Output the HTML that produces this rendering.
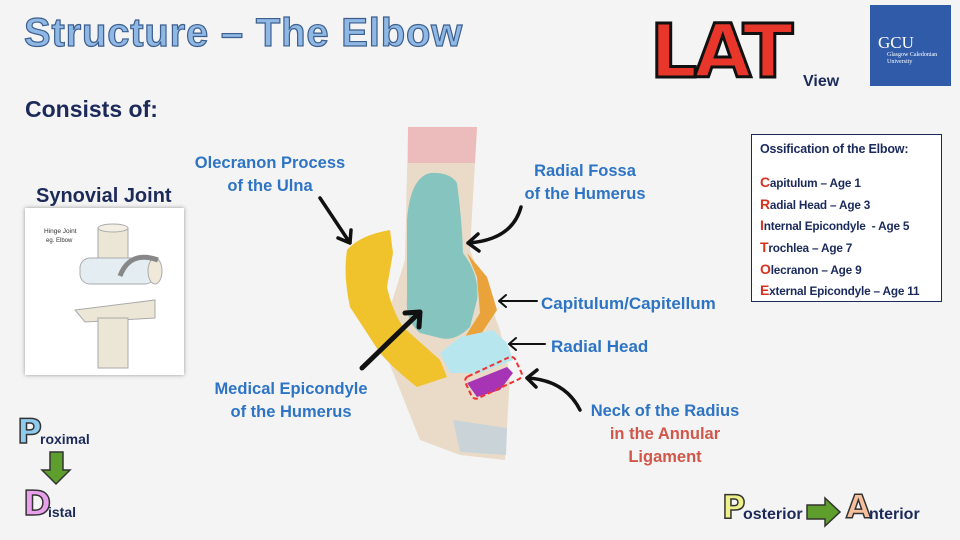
<!DOCTYPE html>
<html><head><meta charset="utf-8"><style>
body{margin:0;width:960px;height:540px;background:#f4f4f4;overflow:hidden;position:relative;font-family:"Liberation Sans",sans-serif}
.a{position:absolute;white-space:nowrap;font-weight:bold}
.lb{color:#2e74c4;font-size:16.5px;text-align:center;line-height:23px}
.os{font-size:11.8px;color:#1b2a5c;line-height:16px;letter-spacing:-0.2px;left:760px}
.os b{color:#d8321e;font-size:14px;line-height:16px}
</style></head><body>
<div class="a" style="left:24px;top:11px;font-size:40px;color:#8fb8e4;-webkit-text-stroke:1.2px #3d5f8e;letter-spacing:0.8px">Structure – The Elbow</div>
<div class="a" style="left:25px;top:96px;font-size:23px;color:#1c2a5a">Consists of:</div>
<div class="a" style="left:36px;top:185px;font-size:20px;color:#1c2a5a">Synovial Joint</div>
<div style="position:absolute;left:25px;top:208px;width:159px;height:167px;background:#fff;box-shadow:0 0 4px #999"></div>

<div class="a" style="left:650px;top:9px;font-size:74px;color:#e8362a;-webkit-text-stroke:3px #111;font-family:'DejaVu Sans',sans-serif;letter-spacing:-3px">LAT</div>
<div class="a" style="left:803px;top:73px;font-size:16px;color:#1c2a5a">View</div>
<div style="position:absolute;left:870px;top:5px;width:81px;height:81px;background:#2f5ba8"></div>
<div class="a" style="left:878px;top:33px;font-size:17px;color:#fff;font-family:'Liberation Serif',serif;font-weight:normal">GCU</div>
<div class="a" style="left:887px;top:52px;font-size:6px;color:#fff;font-family:'Liberation Serif',serif;font-weight:normal;line-height:7px">Glasgow Caledonian<br>University</div>

<div class="a lb" style="left:190px;top:152px;width:160px">Olecranon Process<br>of the Ulna</div>
<div class="a lb" style="left:510px;top:160px;width:150px">Radial Fossa<br>of the Humerus</div>
<div class="a lb" style="left:541px;top:292px;font-size:17px">Capitulum/Capitellum</div>
<div class="a lb" style="left:551px;top:335px;font-size:17px">Radial Head</div>
<div class="a lb" style="left:206px;top:378px;width:170px">Medical Epicondyle<br>of the Humerus</div>
<div class="a lb" style="left:580px;top:400px;width:170px">Neck of the Radius<br><span style="color:#d0574a">in the Annular<br>Ligament</span></div>

<div style="position:absolute;left:751px;top:134px;width:189px;height:166px;border:1.5px solid #1c2a5a;background:#fff"></div>
<div class="a os" style="top:141px;font-size:12.5px">Ossification of the Elbow:</div>
<div class="a os" style="top:174px"><b>C</b>apitulum – Age 1</div>
<div class="a os" style="top:196px"><b>R</b>adial Head – Age 3</div>
<div class="a os" style="top:217px"><b>I</b>nternal Epicondyle&nbsp; - Age 5</div>
<div class="a os" style="top:239px"><b>T</b>rochlea – Age 7</div>
<div class="a os" style="top:261px"><b>O</b>lecranon – Age 9</div>
<div class="a os" style="top:282px"><b>E</b>xternal Epicondyle – Age 11</div>

<div class="a" style="left:17px;top:412px;font-size:34px;color:#8fcbec;-webkit-text-stroke:1.5px #333;font-family:'DejaVu Sans',sans-serif">P</div>
<div class="a" style="left:40px;top:431px;font-size:14px;color:#1c2a5a">roximal</div>
<div class="a" style="left:23px;top:484px;font-size:34px;color:#e8a0ec;-webkit-text-stroke:1.5px #333;font-family:'DejaVu Sans',sans-serif">D</div>
<div class="a" style="left:48px;top:504px;font-size:14px;color:#1c2a5a">istal</div>
<div class="a" style="left:722px;top:488px;font-size:32px;color:#eef08a;-webkit-text-stroke:1.5px #333;font-family:'DejaVu Sans',sans-serif">P</div>
<div class="a" style="left:743px;top:506px;font-size:16px;color:#1c2a5a">osterior</div>
<div class="a" style="left:846px;top:488px;font-size:32px;color:#f6c09c;-webkit-text-stroke:1.5px #333;font-family:'DejaVu Sans',sans-serif">A</div>
<div class="a" style="left:869px;top:506px;font-size:16px;color:#1c2a5a">nterior</div>

<svg width="960" height="540" style="position:absolute;left:0;top:0">
<text x="44" y="233" font-size="6.5" fill="#333" font-family="Liberation Sans">Hinge Joint</text>
<text x="46" y="242" font-size="6" fill="#333" font-family="Liberation Sans">eg. Elbow</text>
<rect x="98" y="228" width="30" height="40" fill="#ece6d6" stroke="#aaa"/>
<ellipse cx="113" cy="228" rx="15" ry="4" fill="#f3efe4" stroke="#aaa"/>
<rect x="80" y="258" width="75" height="26" rx="10" fill="#e4eef2" stroke="#aaa"/>
<ellipse cx="155" cy="271" rx="7" ry="13" fill="#efe9da" stroke="#aaa"/>
<path d="M120 276 Q130 250 158 260" stroke="#888" stroke-width="5" fill="none"/>
<path d="M75 310 L155 300 L155 318 L85 322Z" fill="#ece6d6" stroke="#aaa"/>
<rect x="98" y="318" width="30" height="50" fill="#ece6d6" stroke="#aaa"/>

<path d="M408 127 L477 127 L470 250 L500 330 L510 375 L505 460 L460 455 L420 440 L400 390 L380 340 L405 260Z" fill="#eadbc8"/>
<path d="M408 127 L477 127 L475 163 L408 163Z" fill="#ecbcbc"/>
<path d="M453 420 L507 428 L506 455 L460 452Z" fill="#c9d3d8"/>
<path d="M347 250 Q360 235 390 230 L393 253 L387 287 Q392 310 403 327 L440 360 L447 377 L417 387 Q395 370 380 353 L350 307 Q343 275 347 250Z" fill="#f0c22c"/>
<path d="M407 220 Q410 178 430 173 Q450 172 457 183 Q462 220 463 253 Q480 275 477 300 L470 327 Q455 342 440 338 L420 333 Q405 320 407 300Z" fill="#86c5bf"/>
<path d="M467 253 L487 277 L497 310 L477 340 L463 340 L480 313 L477 277Z" fill="#e9a33a"/>
<path d="M440 353 L460 337 L493 330 L507 343 L513 360 L480 373 L450 373Z" fill="#b7e6ef"/>
<path d="M467 383 L507 367 L513 373 L500 390 L477 397Z" fill="#a733b5"/>
<rect x="466" y="366" width="55" height="24" rx="5" transform="rotate(-25 493 378)" fill="none" stroke="#e33" stroke-width="2" stroke-dasharray="5,3"/>

<g stroke="#111" fill="none" stroke-linecap="round" stroke-linejoin="round">
<path d="M320 198 L350 243 M338 238 L350 243 L351 230" stroke-width="3.5"/>
<path d="M521 207 Q512 240 468 243 M478 234 L468 243 L479 251" stroke-width="3.5"/>
<path d="M537 301 L499 301 M506 295 L499 301 L506 307" stroke-width="2"/>
<path d="M545 344 L509 344 M516 338 L509 344 L516 350" stroke-width="2"/>
<path d="M580 410 Q565 380 527 378 M537 370 L527 378 L536 387" stroke-width="3.5"/>
<path d="M362 368 L420 312 M405 313 L420 312 L419 327" stroke-width="5"/>
</g>
<path d="M50 452 L63 452 L63 470 L70 470 L56 484 L42 470 L50 470Z" fill="#5e9e2c" stroke="#333" stroke-width="1.5"/>
<path d="M807 505 L825 505 L825 498 L840 512 L825 526 L825 519 L807 519Z" fill="#5e9e2c" stroke="#333" stroke-width="1.5"/>
</svg>
</body></html>
